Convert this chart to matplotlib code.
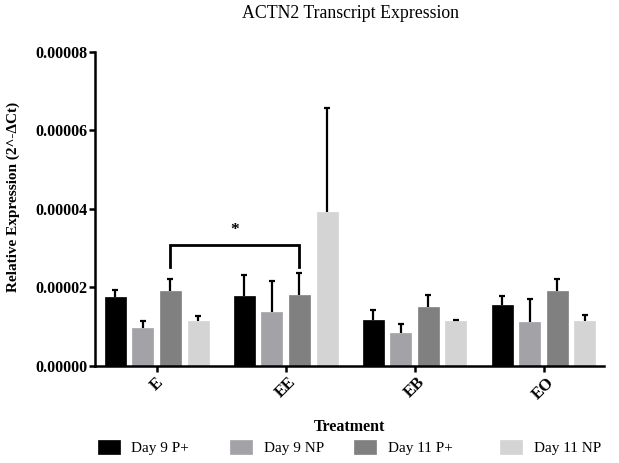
import matplotlib
matplotlib.use("Agg")
import matplotlib.pyplot as plt
import numpy as np

categories = ["E", "EE", "EB", "EO"]
series_names = ["Day 9 P+", "Day 9 NP", "Day 11 P+", "Day 11 NP"]
day9_pos = [1.75e-5, 1.79e-5, 1.16e-5, 1.56e-5]
day9_pos_err = [0.19e-5, 0.54e-5, 0.27e-5, 0.23e-5]
day9_np = [0.98e-5, 1.38e-5, 0.83e-5, 1.12e-5]
day9_np_err = [0.17e-5, 0.79e-5, 0.25e-5, 0.59e-5]
day11_pos = [1.92e-5, 1.80e-5, 1.50e-5, 1.92e-5]
day11_pos_err = [0.30e-5, 0.58e-5, 0.30e-5, 0.30e-5]
day11_np = [1.14e-5, 3.92e-5, 1.14e-5, 1.15e-5]
day11_np_err = [0.14e-5, 2.65e-5, 0.03e-5, 0.14e-5]
yticks = [0.0, 0.00002, 0.00004, 0.00006, 0.00008]
ytick_labels = ["0.00000", "0.00002", "0.00004", "0.00006", "0.00008"]

colors = ["#000000", "#a2a2a7", "#808080", "#d4d4d4"]
values = [day9_pos, day9_np, day11_pos, day11_np]
errors = [day9_pos_err, day9_np_err, day11_pos_err, day11_np_err]

plt.rcParams['font.family'] = ['Liberation Serif', 'DejaVu Serif']

fig = plt.figure(figsize=(6.19, 4.63), dpi=100)
ax = fig.add_axes([0.1535, 0.2095, 0.8225, 0.6782])

x = np.arange(len(categories))
step = 0.214
width = 0.163
handles = []
for i, (vals, errs, c) in enumerate(zip(values, errors, colors)):
    pos = x + (i - 1.5) * step
    b = ax.bar(pos, vals, width, color=c, edgecolor=c, linewidth=0.5,
               label=series_names[i], zorder=2)
    _, caps, _ = ax.errorbar(pos, vals, yerr=[np.zeros(len(errs)), errs], fmt='none',
                             ecolor='black', elinewidth=1.6, capsize=2.4, capthick=1.6,
                             zorder=3)
    if len(caps) == 2:
        caps[0].set_visible(False)
    handles.append(b)

# significance bracket between E Day 11 P+ and EE Day 11 P+
x1 = x[0] + 0.5 * step
x2 = x[1] + 0.5 * step
ytop = 3.09e-5
ybot = 2.53e-5
ax.plot([x1, x1, x2, x2], [ybot, ytop, ytop, ybot], color='black', lw=2, zorder=4,
        solid_joinstyle='miter')
ax.text((x1 + x2) / 2, 3.27e-5, "*", ha='center', va='bottom', fontsize=12.5, fontweight='bold')

ax.set_xlim(-0.478, 3.47)
ax.set_ylim(0, 0.00008)
ax.set_yticks(yticks)
ax.set_yticklabels(ytick_labels, fontweight='bold', fontsize=11.5)
ax.set_xticks(x)
ax.set_xticklabels(categories, rotation=45, ha='center', fontweight='bold', fontsize=12)
for s in ['top', 'right']:
    ax.spines[s].set_visible(False)
for s in ['left', 'bottom']:
    ax.spines[s].set_linewidth(1.8)
ax.tick_params(axis='both', width=1.8, length=4, direction='out')
ax.tick_params(axis='y', pad=1.5)
ax.tick_params(axis='x', pad=2)

ax.set_ylabel("Relative Expression (2^-ΔCt)", fontweight='bold', fontsize=11, labelpad=4)
ax.yaxis.set_label_coords(-0.148, 0.538)
ax.set_xlabel("Treatment", fontweight='bold', fontsize=11.5, labelpad=12)
fig.text(0.566, 0.970, "ACTN2 Transcript Expression", ha='center', va='center', fontsize=12.8)

leg_x = [0.158, 0.372, 0.572, 0.808]
for h, lx in zip(handles, leg_x):
    fig.legend([h], [h.get_label()], loc='center left', bbox_to_anchor=(lx, 0.033),
               frameon=False, fontsize=11, handlelength=1.45, handleheight=1.0,
               handletextpad=0.75, borderpad=0, borderaxespad=0)

fig.savefig("out.png", dpi=100)
